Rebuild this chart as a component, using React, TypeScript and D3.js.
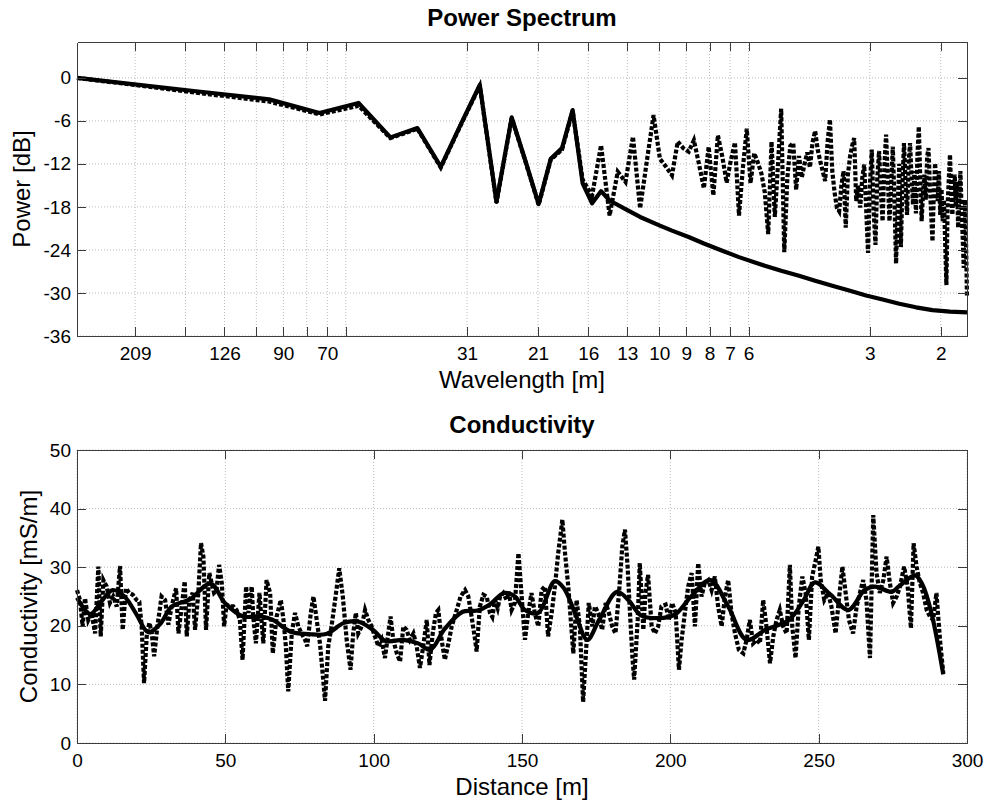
import React, { useEffect, useRef } from "react";
import * as d3 from "d3";

// ---- Power spectrum (harmonic index m = 1..162, wavenumber k = 2*pi*m/L) ----
const profileLength = 292; // m

const rawPower = [
  0, -2.1, -3.3, -5.1, -3.9, -8.4, -7.1, -12.5, -6.4, -1.1,
  -17.4, -5.6, -11.8, -17.7, -11.4, -10.0, -4.6, -14.2, -16.4, -9.4,
  -19.2, -13.1, -14.5, -8.2, -18.2, -11.5, -5.2, -11.3, -12.4, -13.6,
  -8.9, -9.8, -10.3, -8.7, -12.0, -15.4, -9.6, -16.4, -8.0, -11.0,
  -14.6, -11.5, -9.0, -19.2, -12.5, -7.1, -14.7, -10.5, -11.8, -13.3,
  -16.0, -21.8, -8.9, -19.4, -12.0, -4.3, -24.3, -14.0, -9.5, -9.1,
  -15.6, -10.9, -13.9, -12.0, -10.4, -12.5, -9.0, -7.4, -10.0, -11.6,
  -13.0, -14.4, -9.0, -5.8, -13.0, -16.0, -18.1, -18.6, -15.0, -13.0,
  -20.9, -13.5, -11.0, -9.5, -8.4, -17.2, -15.0, -18.1, -14.0, -12.1,
  -18.0, -24.4, -15.0, -10.0, -18.5, -23.3, -14.0, -10.2, -16.0, -20.0,
  -12.5, -7.9, -14.0, -20.0, -15.0, -9.6, -17.0, -25.9, -18.0, -12.0,
  -23.6, -15.0, -9.1, -14.5, -19.1, -12.0, -9.1, -14.0, -17.7, -13.0,
  -18.9, -11.0, -6.8, -14.0, -20.0, -16.0, -13.5, -17.0, -11.0, -9.8,
  -15.0, -19.0, -22.8, -16.0, -11.9, -15.0, -17.2, -13.0, -19.1, -15.5,
  -20.0, -17.0, -23.0, -28.9, -18.0, -14.0, -10.7, -16.0, -19.1, -15.0,
  -13.5, -18.0, -14.5, -20.9, -17.0, -13.0, -18.0, -22.0, -26.5, -17.0,
  -22.0, -30.6,
];

const smoothIndex = [
  1, 2, 3, 4, 5, 6, 7, 8, 9, 10, 11, 12, 13, 14, 15, 16, 17, 18, 19, 20, 21,
  23, 25, 28, 30, 33, 36, 40, 44, 48, 51, 56, 62, 68, 75, 83, 91, 100, 110,
  121, 133, 147, 162,
];
const smoothPower = [
  0, -1.9, -3.0, -4.9, -3.5, -8.3, -7.0, -12.4, -6.3, -1.0, -17.3, -5.5,
  -11.7, -17.6, -11.3, -9.8, -4.5, -14.7, -17.5, -15.8, -17.1,
  -18.3, -19.4, -20.6, -21.3, -22.2, -23.1, -24.1, -25.0, -25.7, -26.2,
  -26.9, -27.6, -28.3, -29.0, -29.7, -30.35, -30.9, -31.5, -32.0, -32.4,
  -32.6, -32.7,
];

const wavenumberTicks = [0.03, 0.04, 0.05, 0.06, 0.07, 0.08, 0.09, 0.1, 0.2, 0.3, 0.4, 0.5, 0.6, 0.7, 0.8, 0.9, 1, 2, 3];
const wavelengthLabels = ["209", "", "126", "", "90", "", "70", "", "31", "21", "16", "13", "10", "9", "8", "7", "6", "3", "2"];
const powerTicks = [-36, -30, -24, -18, -12, -6, 0];

// ---- Conductivity profile ----
const rawDistance = [
  0, 1, 1.9, 2.7, 3.8, 4.9, 6.1, 7.2, 8, 8.9, 10, 11.1, 12.2, 13.4, 14.5, 15.4,
  16.5, 17.6, 18.8, 20.1, 21, 21.8, 22.6, 23.5, 24.4, 25.2, 26, 27.1, 28.5,
  29.7, 30.8, 31.9, 33.4, 34.2, 35.3, 36.3, 37, 37.9, 39, 39.8, 40.9, 41.8,
  42.6, 43.5, 44.6, 45.4, 46.2, 47, 47.9, 48.8, 49.6, 50.4, 51.6, 52.7, 53.8,
  54.9, 55.8, 57, 57.8, 58.9, 59.4, 60.3, 61.5, 62.8, 63.9, 65.1, 66, 67.3,
  68.7, 69.6, 70.4, 71.2, 72.4, 73.5, 74.6, 75.7, 76.9, 77.6, 78.8, 79.7,
  80.8, 81.9, 82.8, 83.6, 84.7, 85.8, 87, 88.4, 89.6, 90.9, 92.2, 93.1, 94,
  94.8, 96, 97.1, 98.2, 99.3, 100.4, 101.6, 102.7, 103.8, 104.9, 105.7,
  106.6, 107.8, 108.9, 110, 111.1, 112.2, 113.4, 114.5, 115.6, 116.7, 117.9,
  118.8, 119.9, 121, 121.8, 122.9, 124, 125.2, 126.3, 128, 129.3, 130.8,
  131.9, 133, 134.2, 134.7, 135.8, 137, 138.1, 139.2, 140, 140.9, 141.8,
  142.6, 143.7, 144.8, 145.6, 146.5, 147.6, 148.8, 149.8, 151, 152.1, 153.2,
  154.3, 155.5, 156.6, 157.7, 158.8, 160, 161.1, 162.2, 163.6, 164.5, 165.6,
  166.1, 167.3, 168.4, 169.5, 170.6, 171.8, 172.5, 173.7, 174.6, 175.7, 177,
  178.2, 179.3, 180.4, 181.5, 182.7, 183.8, 184.7, 185.6, 186.4, 187.2,
  187.8, 189, 189.7, 190.9, 191.6, 192.5, 193.7, 194.8, 195.9, 197, 198.4,
  199.5, 200.6, 201.8, 202.9, 203.8, 204.9, 206, 207.2, 208.3, 209.4, 210.5,
  211.6, 212.8, 213.9, 215, 216.1, 217.3, 218.4, 219.5, 220.6, 221.8, 223.1,
  224.6, 225.7, 226.8, 227.9, 229.1, 230.2, 231.3, 232.4, 233.6, 234.7,
  235.8, 236.9, 238, 239.2, 240.3, 241.1, 242.2, 243.3, 244.5, 245.6, 246.7,
  247.8, 249, 249.9, 250.7, 251.9, 253.2, 254.3, 255.7, 256.8, 258, 259.1,
  260.2, 261.6, 262.8, 263.9, 265, 266.1, 267.3, 268.4, 269.5, 270.6, 271.8,
  272.9, 274, 275.1, 276.3, 277.4, 278.8, 280, 281.1, 282, 283, 284.1, 285.2,
  286.4, 287.5, 288.6, 289.7, 290.9, 292,
];
const rawConductivity = [
  26.1, 24.4, 19.9, 24.7, 21.0, 22.2, 18.7, 30.1, 18.2, 27.8, 26.7, 23.9, 25.0,
  23.3, 30.2, 19.3, 26.4, 25.6, 25.3, 24.4, 24.1, 19.9, 10.2, 18.2, 20.5, 18.7,
  14.8, 19.9, 25.0, 24.4, 20.2, 23.3, 26.4, 18.7, 23.3, 27.6, 18.2, 24.4, 25.6,
  19.3, 25.6, 34.1, 31.8, 19.3, 29.0, 27.3, 25.6, 26.0, 30.4, 27.3, 19.9, 23.6,
  23.3, 23.3, 22.7, 21.0, 14.2, 26.7, 22.2, 26.7, 21.6, 17.0, 25.6, 17.0, 27.8,
  25.6, 15.3, 21.6, 24.4, 21.0, 16.5, 8.8, 18.7, 22.2, 19.9, 18.7, 17.6, 16.5,
  22.2, 25.0, 21.0, 17.0, 11.9, 7.2, 16.5, 19.9, 24.4, 29.8, 25.0, 17.6, 12.5,
  18.7, 22.2, 18.7, 19.9, 22.7, 21.0, 19.9, 18.2, 16.5, 17.6, 14.5, 18.7, 21.6,
  17.6, 15.3, 13.9, 19.9, 19.3, 17.6, 18.7, 16.5, 12.8, 16.5, 21.0, 13.3, 18.7,
  22.2, 22.7, 17.6, 14.2, 17.0, 19.9, 22.7, 25.0, 26.1, 25.0, 21.6, 17.6, 15.6,
  23.3, 25.3, 25.0, 22.2, 21.5, 24.4, 23.0, 25.0, 25.6, 24.4, 25.8, 22.7, 23.9,
  32.4, 25.6, 17.6, 22.2, 25.6, 22.2, 19.9, 26.1, 26.7, 18.2, 22.2, 26.7, 32.4,
  38.1, 32.4, 26.7, 23.3, 15.3, 24.4, 19.9, 7.0, 17.6, 23.9, 19.9, 23.3, 22.2,
  19.3, 23.9, 22.2, 19.9, 18.7, 25.6, 33.5, 36.4, 30.1, 22.2, 14.8, 10.8, 21.0,
  30.7, 19.3, 25.6, 28.7, 19.9, 18.7, 19.9, 23.3, 23.6, 21.0, 23.9, 22.2, 12.5,
  17.6, 22.2, 26.7, 29.0, 19.9, 30.7, 25.0, 27.3, 27.8, 26.1, 28.4, 23.3, 19.9,
  25.0, 27.8, 22.2, 18.7, 15.9, 15.3, 17.6, 21.0, 17.0, 17.6, 17.0, 24.4, 19.9,
  13.6, 18.2, 21.0, 22.7, 19.9, 18.7, 30.4, 19.9, 14.5, 23.3, 28.4, 25.6, 17.6,
  28.4, 31.2, 33.5, 27.8, 24.4, 25.6, 23.3, 18.7, 24.4, 30.1, 25.6, 21.0, 18.7,
  23.3, 25.6, 27.8, 24.4, 14.5, 38.9, 29.0, 25.6, 27.8, 31.8, 27.3, 23.9, 25.0,
  26.7, 30.1, 26.7, 19.6, 34.1, 30.1, 27.3, 25.6, 22.7, 21.6, 21.0, 25.6, 17.6,
  11.9,
];

const smoothDistance = [
  0, 4.5, 8, 12, 16, 20, 24, 28, 32, 38, 45, 50, 56, 62, 66, 72, 78, 84, 90,
  95, 100, 104, 110, 115, 119, 124, 130, 135, 139, 144, 147.6, 151, 155.5, 161,
  164, 168, 172, 176, 182, 186, 190, 196, 201.5, 207, 213.5, 219.5, 225.7, 232,
  240, 245, 248.7, 254, 260, 265.5, 269, 274.5, 277, 282.5, 285, 288, 292,
];
const smoothConductivity = [
  24.8, 22.0, 24.0, 26.1, 25.0, 22.0, 18.9, 20.3, 23.3, 24.5, 27.2, 23.8, 21.6,
  21.6, 21.0, 19.0, 18.6, 18.6, 20.5, 20.7, 19.2, 17.4, 17.6, 17.0, 15.9, 19.5,
  22.4, 22.6, 23.6, 25.6, 25.0, 22.7, 22.2, 27.6, 26.5, 22.0, 17.6, 21.0, 25.8,
  24.3, 21.8, 21.3, 21.9, 25.0, 27.8, 23.3, 17.6, 19.3, 21.0, 24.4, 27.4, 25.3,
  22.7, 26.1, 26.7, 25.8, 26.7, 28.6, 27.0, 22.2, 11.7,
];

const distanceTicks = [0, 50, 100, 150, 200, 250, 300];
const conductivityTicks = [0, 10, 20, 30, 40, 50];

const FONT = "'Liberation Sans', Arial, Helvetica, sans-serif";
const AXIS_COLOR = "#3c3c3c";
const GRID_COLOR = "#bcbcbc";

function drawGrid(g, x, y, w, h, xTicks, yTicks) {
  // dotted grid
  const grid = g.append("g")
    .attr("stroke", GRID_COLOR)
    .attr("stroke-width", 1)
    .attr("stroke-dasharray", "1,2");
  grid.append("g").selectAll("line").data(xTicks).join("line")
    .attr("x1", d => x(d)).attr("x2", d => x(d))
    .attr("y1", 0).attr("y2", h);
  grid.append("g").selectAll("line").data(yTicks).join("line")
    .attr("x1", 0).attr("x2", w)
    .attr("y1", d => y(d)).attr("y2", d => y(d));
}

function drawAxes(g, x, y, w, h, xTicks, xFormat, yTicks, labelGap) {
  const style = (sel) => {
    sel.attr("color", AXIS_COLOR)
      .attr("font-family", FONT)
      .attr("font-size", 19)
      .attr("shape-rendering", "crispEdges");
    sel.selectAll("text").attr("fill", "#000").attr("shape-rendering", null);
  };

  g.append("g").attr("transform", `translate(0,${h})`)
    .call(d3.axisBottom(x).tickValues(xTicks).tickFormat(xFormat)
      .tickSizeInner(-9).tickSizeOuter(0).tickPadding(labelGap))
    .call(style);
  g.append("g")
    .call(d3.axisTop(x).tickValues(xTicks).tickFormat(() => "")
      .tickSizeInner(-9).tickSizeOuter(0))
    .call(style);
  g.append("g")
    .call(d3.axisLeft(y).tickValues(yTicks).tickFormat(d => `${d}`)
      .tickSizeInner(-9).tickSizeOuter(0).tickPadding(6))
    .call(style);
  g.append("g").attr("transform", `translate(${w},0)`)
    .call(d3.axisRight(y).tickValues(yTicks).tickFormat(() => "")
      .tickSizeInner(-9).tickSizeOuter(0))
    .call(style);

  // plain hyphen for negatives, as in the original
  g.selectAll("text").text(function () {
    return d3.select(this).text().replace("\u2212", "-");
  });
}

const App = () => {
  const svgRef = useRef(null);

  useEffect(() => {
    const svg = d3.select(svgRef.current);
    svg.selectAll("*").remove();

    const left = 77;
    const width = 890;
    const dashW = 4.2;
    const solidW = 4.2;

    // ---------- top: power spectrum ----------
    const topY = 42;
    const topH = 294;
    const k0 = (2 * Math.PI) / profileLength;
    const rawK = rawPower.map((_, i) => (i + 1) * k0);

    const xK = d3.scaleLog()
      .domain([k0, rawK[rawK.length - 1]])
      .range([0, width]);
    const yP = d3.scaleLinear().domain([-36, 5]).range([topH, 0]);

    const g1 = svg.append("g").attr("transform", `translate(${left},${topY})`);
    drawGrid(g1, xK, yP, width, topH, wavenumberTicks, powerTicks);

    const linePow = d3.line()
      .x(d => xK(d[0]))
      .y(d => yP(d[1]));

    g1.append("path")
      .datum(rawK.map((k, i) => [k, rawPower[i]]))
      .attr("d", linePow)
      .attr("fill", "none")
      .attr("stroke", "#000")
      .attr("stroke-width", dashW)
      .attr("stroke-dasharray", "4,2");

    g1.append("path")
      .datum(smoothIndex.map((m, i) => [m * k0, smoothPower[i]]))
      .attr("d", linePow)
      .attr("fill", "none")
      .attr("stroke", "#000")
      .attr("stroke-width", solidW)
      .attr("stroke-linejoin", "round");

    drawAxes(g1, xK, yP, width, topH, wavenumberTicks,
      (d, i) => wavelengthLabels[i], powerTicks, 11);

    svg.append("text")
      .attr("x", left + width / 2).attr("y", 26)
      .attr("text-anchor", "middle")
      .attr("font-family", FONT).attr("font-size", 24).attr("font-weight", "bold")
      .text("Power Spectrum");
    svg.append("text")
      .attr("x", left + width / 2).attr("y", 388)
      .attr("text-anchor", "middle")
      .attr("font-family", FONT).attr("font-size", 24)
      .text("Wavelength [m]");
    svg.append("text")
      .attr("transform", `translate(30,${topY + topH / 2}) rotate(-90)`)
      .attr("text-anchor", "middle")
      .attr("font-family", FONT).attr("font-size", 24)
      .text("Power [dB]");

    // ---------- bottom: conductivity ----------
    const botY = 450;
    const botH = 293;
    const xD = d3.scaleLinear().domain([0, 300]).range([0, width]);
    const yC = d3.scaleLinear().domain([0, 50]).range([botH, 0]);

    const g2 = svg.append("g").attr("transform", `translate(${left},${botY})`);
    drawGrid(g2, xD, yC, width, botH, distanceTicks, conductivityTicks);

    const lineCond = d3.line()
      .x(d => xD(d[0]))
      .y(d => yC(d[1]));

    g2.append("path")
      .datum(rawDistance.map((d, i) => [d, rawConductivity[i]]))
      .attr("d", lineCond)
      .attr("fill", "none")
      .attr("stroke", "#000")
      .attr("stroke-width", dashW)
      .attr("stroke-dasharray", "4,2");

    g2.append("path")
      .datum(smoothDistance.map((d, i) => [d, smoothConductivity[i]]))
      .attr("d", lineCond.curve(d3.curveCatmullRom.alpha(0.5)))
      .attr("fill", "none")
      .attr("stroke", "#000")
      .attr("stroke-width", solidW)
      .attr("stroke-linejoin", "round");

    drawAxes(g2, xD, yC, width, botH, distanceTicks, d => `${d}`, conductivityTicks, 11);

    svg.append("text")
      .attr("x", left + width / 2).attr("y", 433)
      .attr("text-anchor", "middle")
      .attr("font-family", FONT).attr("font-size", 24).attr("font-weight", "bold")
      .text("Conductivity");
    svg.append("text")
      .attr("x", left + width / 2).attr("y", 795)
      .attr("text-anchor", "middle")
      .attr("font-family", FONT).attr("font-size", 24)
      .text("Distance [m]");
    svg.append("text")
      .attr("transform", `translate(37,${botY + botH / 2}) rotate(-90)`)
      .attr("text-anchor", "middle")
      .attr("font-family", FONT).attr("font-size", 24)
      .text("Conductivity [mS/m]");
  }, []);

  return (
    <svg
      ref={svgRef}
      width={990}
      height={806}
      style={{ position: "absolute", left: 0, top: 0, background: "#fff" }}
    />
  );
};

export default App;
